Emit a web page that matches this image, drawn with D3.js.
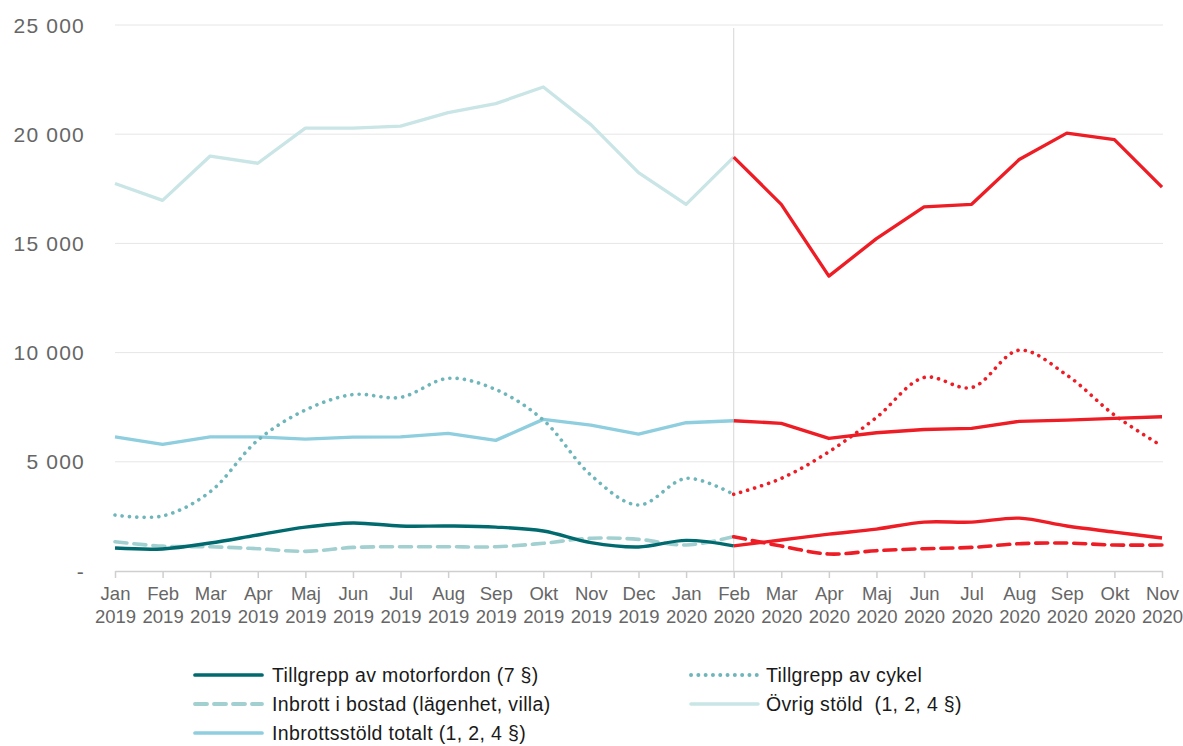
<!DOCTYPE html>
<html><head><meta charset="utf-8">
<script src="https://cdn.jsdelivr.net/npm/d3@7"></script>
<style>
html,body{margin:0;padding:0;background:#fff;}
text{font-family:"Liberation Sans",Arial,Helvetica,sans-serif;white-space:pre;}
</style></head>
<body><svg id="c" width="1183" height="746"></svg>
<script>
const months = ["Jan","Feb","Mar","Apr","Maj","Jun","Jul","Aug","Sep","Okt","Nov","Dec","Jan","Feb","Mar","Apr","Maj","Jun","Jul","Aug","Sep","Okt","Nov"];
const years  = ["2019","2019","2019","2019","2019","2019","2019","2019","2019","2019","2019","2019","2020","2020","2020","2020","2020","2020","2020","2020","2020","2020","2020"];
const yTicks = [0,5000,10000,15000,20000,25000];
const yTickLabels = ["-","5 000","10 000","15 000","20 000","25 000"];

const motorfordon = [1050,1010,1280,1650,2010,2200,2060,2060,2010,1830,1300,1100,1400,1150,1420,1690,1920,2240,2240,2420,2060,1780,1510];
const bostad      = [1340,1140,1110,1020,900,1080,1110,1110,1110,1270,1500,1450,1190,1570,1140,780,930,1020,1080,1250,1280,1190,1190];
const cykel       = [2560,2520,3630,5990,7370,8080,7950,8820,8310,6910,4390,3020,4240,3510,4240,5460,7030,8860,8400,10110,8970,7140,5720];
const inbrottsstold = [6140,5800,6140,6140,6040,6130,6140,6300,5980,6940,6680,6270,6790,6880,6760,6070,6330,6480,6530,6850,6910,6990,7060];
const ovrigStold  = [17740,16970,19000,18670,20280,20280,20370,20990,21400,22160,20440,18240,16790,18950,16790,13500,15220,16670,16790,18840,20050,19750,17580];

const seriesNames = ["Tillgrepp av motorfordon (7 §)","Inbrott i bostad (lägenhet, villa)","Inbrottsstöld totalt (1, 2, 4 §)","Tillgrepp av cykel","Övrig stöld  (1, 2, 4 §)"];
const splitIndex = 13; // Feb 2020

const series = [
  {name:seriesNames[4], values:ovrigStold, color:"#c9e5e6", dash:null, smooth:false, w:3.3},
  {name:seriesNames[2], values:inbrottsstold, color:"#8ecedf", dash:null, smooth:false, w:3.4},
  {name:seriesNames[3], values:cykel, color:"#6fb6ba", dash:"0.1,7.2", smooth:true, w:3.6},
  {name:seriesNames[1], values:bostad, color:"#a2d0d0", dash:"12,7", smooth:true, w:3.6},
  {name:seriesNames[0], values:motorfordon, color:"#006a6e", dash:null, smooth:true, w:3.4}
];
const red = "#ee1c24";

const svg = d3.select("#c");
const x = d3.scalePoint().domain(d3.range(months.length)).range([115,1162]);
const y = d3.scaleLinear().domain([0,25000]).range([571,25]);

svg.append("g").selectAll("line").data(yTicks.filter(d=>d>0)).join("line")
  .attr("x1",115).attr("x2",1163).attr("y1",d=>y(d)).attr("y2",d=>y(d))
  .attr("stroke","#e6e6e6").attr("stroke-width",1);

svg.append("g").selectAll("text").data(yTicks).join("text")
  .attr("x",85).attr("y",d=>y(d)).attr("dy","0.36em").attr("text-anchor","end")
  .attr("font-size",21).attr("letter-spacing","1.2px").attr("fill","#666")
  .text((d,i)=>yTickLabels[i]);

svg.append("line").attr("x1",x(splitIndex)).attr("x2",x(splitIndex))
  .attr("y1",28).attr("y2",y(0)).attr("stroke","#dddddd").attr("stroke-width",1.2);

const xAxis = d3.axisBottom(x).tickSize(7).tickSizeOuter(0).tickFormat("");
const gx = svg.append("g").attr("transform",`translate(0,${y(0)})`).call(xAxis);
gx.select(".domain").attr("stroke","#cfcfcf").attr("stroke-width",1.5);
gx.selectAll(".tick line").attr("stroke","#cfcfcf").attr("stroke-width",1.5);
gx.selectAll(".tick").each(function(i){
  const g = d3.select(this);
  g.append("text").attr("y",29).attr("text-anchor","middle").attr("font-size",18.5)
    .attr("fill","#666").text(months[i]);
  g.append("text").attr("y",52).attr("text-anchor","middle").attr("font-size",18.5)
    .attr("fill","#666").text(years[i]);
});

const plot = svg.append("g");
series.forEach(s=>{
  const line = d3.line().x(d=>x(d.i)).y(d=>y(d.v))
    .curve(s.smooth ? d3.curveCatmullRom.alpha(0.5) : d3.curveLinear);
  const pts = s.values.map((v,i)=>({i,v}));
  const first = pts.slice(0,splitIndex+1), second = pts.slice(splitIndex);
  [[first,s.color],[second,red]].forEach(([p,c])=>{
    plot.append("path").datum(p).attr("d",line).attr("fill","none")
      .attr("stroke",c).attr("stroke-width",s.w)
      .attr("stroke-linecap", s.dash ? "round" : "butt")
      .attr("stroke-linejoin","round")
      .attr("stroke-dasharray",s.dash);
  });
});

const legendItems = [
  {s:series[4], col:0,row:0},
  {s:series[3], col:0,row:1},
  {s:series[1], col:0,row:2},
  {s:series[2], col:1,row:0},
  {s:series[0], col:1,row:1}
];
const leg = svg.append("g");
legendItems.forEach(it=>{
  const lx = it.col===0 ? 195 : 691;
  const ly = 675 + it.row*29;
  leg.append("line").attr("x1",lx).attr("x2",lx+67).attr("y1",ly).attr("y2",ly)
    .attr("stroke",it.s.color).attr("stroke-width",it.s.w+0.3)
    .attr("stroke-linecap","round")
    .attr("stroke-dasharray",it.s.dash);
  leg.append("text").attr("x",lx+(it.col===0?77:75)).attr("y",ly).attr("dy","0.35em")
    .attr("font-size",19.5).attr("letter-spacing","0.35px").attr("fill","#1a1a1a").text(it.s.name);
});
</script></body></html>
